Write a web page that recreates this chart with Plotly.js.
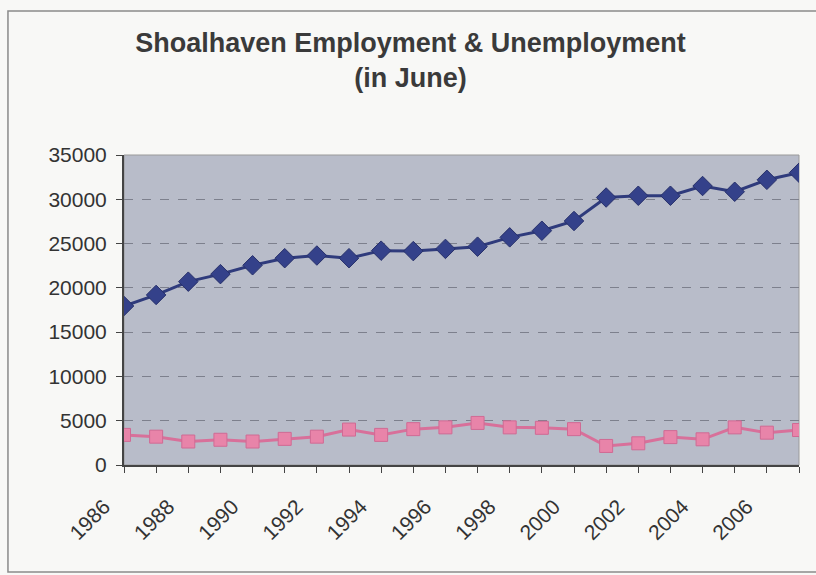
<!DOCTYPE html>
<html>
<head>
<meta charset="utf-8">
<script src="https://cdn.plot.ly/plotly-3.0.1.min.js"></script>
<style>html,body{margin:0;padding:0;background:#f8f8f6;}#chart{width:816px;height:575px;}</style>
</head>
<body>
<div id="chart"></div>
<script>
const years = [1986,1987,1988,1989,1990,1991,1992,1993,1994,1995,1996,1997,1998,1999,2000,2001,2002,2003,2004,2005,2006,2007];
const employment = [17950,19200,20700,21550,22550,23350,23650,23350,24200,24150,24400,24650,25700,26450,27550,30200,30400,30400,31500,30850,32200,33000];
const unemployment = [3400,3200,2650,2850,2650,2950,3200,4000,3400,4050,4250,4750,4250,4200,4050,2150,2450,3150,2900,4250,3650,3950];
const tickYears = [1986,1988,1990,1992,1994,1996,1998,2000,2002,2004,2006];
const titleText = 'Shoalhaven Employment & Unemployment<br>(in June)';

const font = 'Liberation Sans, Arial, sans-serif';

const traces = [
  {x: years, y: employment, type: 'scatter', mode: 'lines+markers', name: 'Employment',
   line: {color: '#2f3b7c', width: 3},
   marker: {symbol: 'diamond', size: 15, color: '#34418a', line: {color: '#27306a', width: 1}}},
  {x: years, y: unemployment, type: 'scatter', mode: 'lines+markers', name: 'Unemployment',
   line: {color: '#d8709a', width: 3},
   marker: {symbol: 'square', size: 13, color: '#e884a9', line: {color: '#d06a94', width: 1}}}
];

const layout = {
  width: 816, height: 575,
  margin: {l: 124, r: 17, t: 155, b: 110},
  paper_bgcolor: '#f8f8f6',
  plot_bgcolor: '#b8bcc9',
  showlegend: false,
  title: {text: titleText, x: 0.503, xref: 'container', xanchor: 'center', y: 0.91, yanchor: 'top',
          font: {family: font, size: 27, color: '#3a3a3a', weight: 'bold'}},
  xaxis: {
    range: [1986, 2007], tickmode: 'array', tickvals: tickYears, ticktext: tickYears.map(String),
    tickangle: -45, ticks: 'outside', ticklen: 6, tickcolor: '#444', tickwidth: 1,
    minor: {tickmode: 'linear', tick0: 1986, dtick: 1, ticks: 'outside', ticklen: 6, tickcolor: '#444', tickwidth: 1, showgrid: false},
    showline: true, linecolor: '#444', linewidth: 2, showgrid: false, zeroline: false,
    tickfont: {family: font, size: 21, color: '#333'}, ticklabelstandoff: 13, ticklabelshift: -20
  },
  yaxis: {
    range: [0, 35000], dtick: 5000, tick0: 0, tickformat: 'd', ticks: 'outside', ticklen: 6, tickcolor: '#444',
    showline: true, linecolor: '#444', linewidth: 2,
    showgrid: true, gridcolor: '#7d808d', griddash: 'dash', gridwidth: 1, zeroline: false,
    tickfont: {family: font, size: 21, color: '#333'}, ticklabelstandoff: 5
  },
  shapes: [
    {type: 'rect', xref: 'paper', yref: 'paper', x0: 0, x1: 1, y0: 0, y1: 1,
     line: {color: '#9a9a9a', width: 1}, layer: 'below'},
    {type: 'rect', xref: 'paper', yref: 'paper', x0: -0.1719, x1: 1.04, y0: -0.345, y1: 1.4645,
     line: {color: '#8a8a8a', width: 1.5}}
  ]
};

Plotly.newPlot('chart', traces, layout, {displayModeBar: false, staticPlot: true});
</script>
</body>
</html>
